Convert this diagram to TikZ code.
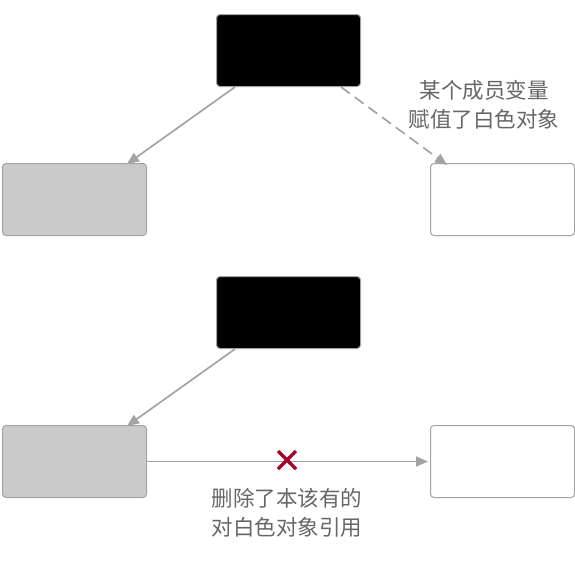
\documentclass[tikz,border=0pt]{standalone}
\usepackage{fontspec}
\newfontfamily\cjk{Noto Sans CJK SC}
\usetikzlibrary{arrows.meta}
\definecolor{linegray}{HTML}{A3A3A3}
\definecolor{boxgray}{HTML}{CACACA}
\definecolor{txtgray}{HTML}{666666}
\definecolor{crossred}{HTML}{A8002A}
\begin{document}
\begin{tikzpicture}[x=1pt,y=-1pt,
  obj/.style={draw=linegray,line width=1pt,rounded corners=3.5pt,minimum width=144pt,minimum height=72pt,inner sep=0pt,anchor=north west},
  blackobj/.style={obj,fill=black},
  grayobj/.style={obj,fill=boxgray},
  whiteobj/.style={obj,fill=white},
  ref/.style={draw=linegray,line width=1.7pt,-{Triangle[length=12pt,width=10pt]}},
  lbl/.style={text=txtgray,font=\cjk\fontsize{21.5pt}{29pt}\selectfont,align=center,inner sep=0pt}]
\useasboundingbox (0,0) rectangle (575,562);
% top
\node[blackobj] (b1) at (216,14) {};
\node[grayobj] (g1) at (2,163) {};
\node[whiteobj] (w1) at (430,163) {};
\draw[ref] ([xshift=19pt]b1.south west) -- ([xshift=125pt,yshift=-1pt]g1.north west);
\draw[ref,dash pattern=on 11pt off 6pt] ([xshift=-20pt]b1.south east) -- ([xshift=17pt,yshift=-2pt]w1.north west);
\node[lbl] (t1) at (484,105) {某个成员变量\\赋值了白色对象};
% bottom
\node[blackobj] (b2) at (216,276) {};
\node[grayobj] (g2) at (2,425) {};
\node[whiteobj] (w2) at (430,425) {};
\draw[ref] ([xshift=19pt]b2.south west) -- ([xshift=125pt,yshift=-1pt]g2.north west);
\draw[ref] (g2.east) -- ([xshift=-2pt]w2.west);
\coordinate (x) at (287,460);
\draw[crossred,line width=3.2pt] ([shift={(-9,-9)}]x) -- ([shift={(9,9)}]x) ([shift={(-9,9)}]x) -- ([shift={(9,-9)}]x);
\node[lbl] (t2) at (287,513) {删除了本该有的\\对白色对象引用};
\end{tikzpicture}
\end{document}
